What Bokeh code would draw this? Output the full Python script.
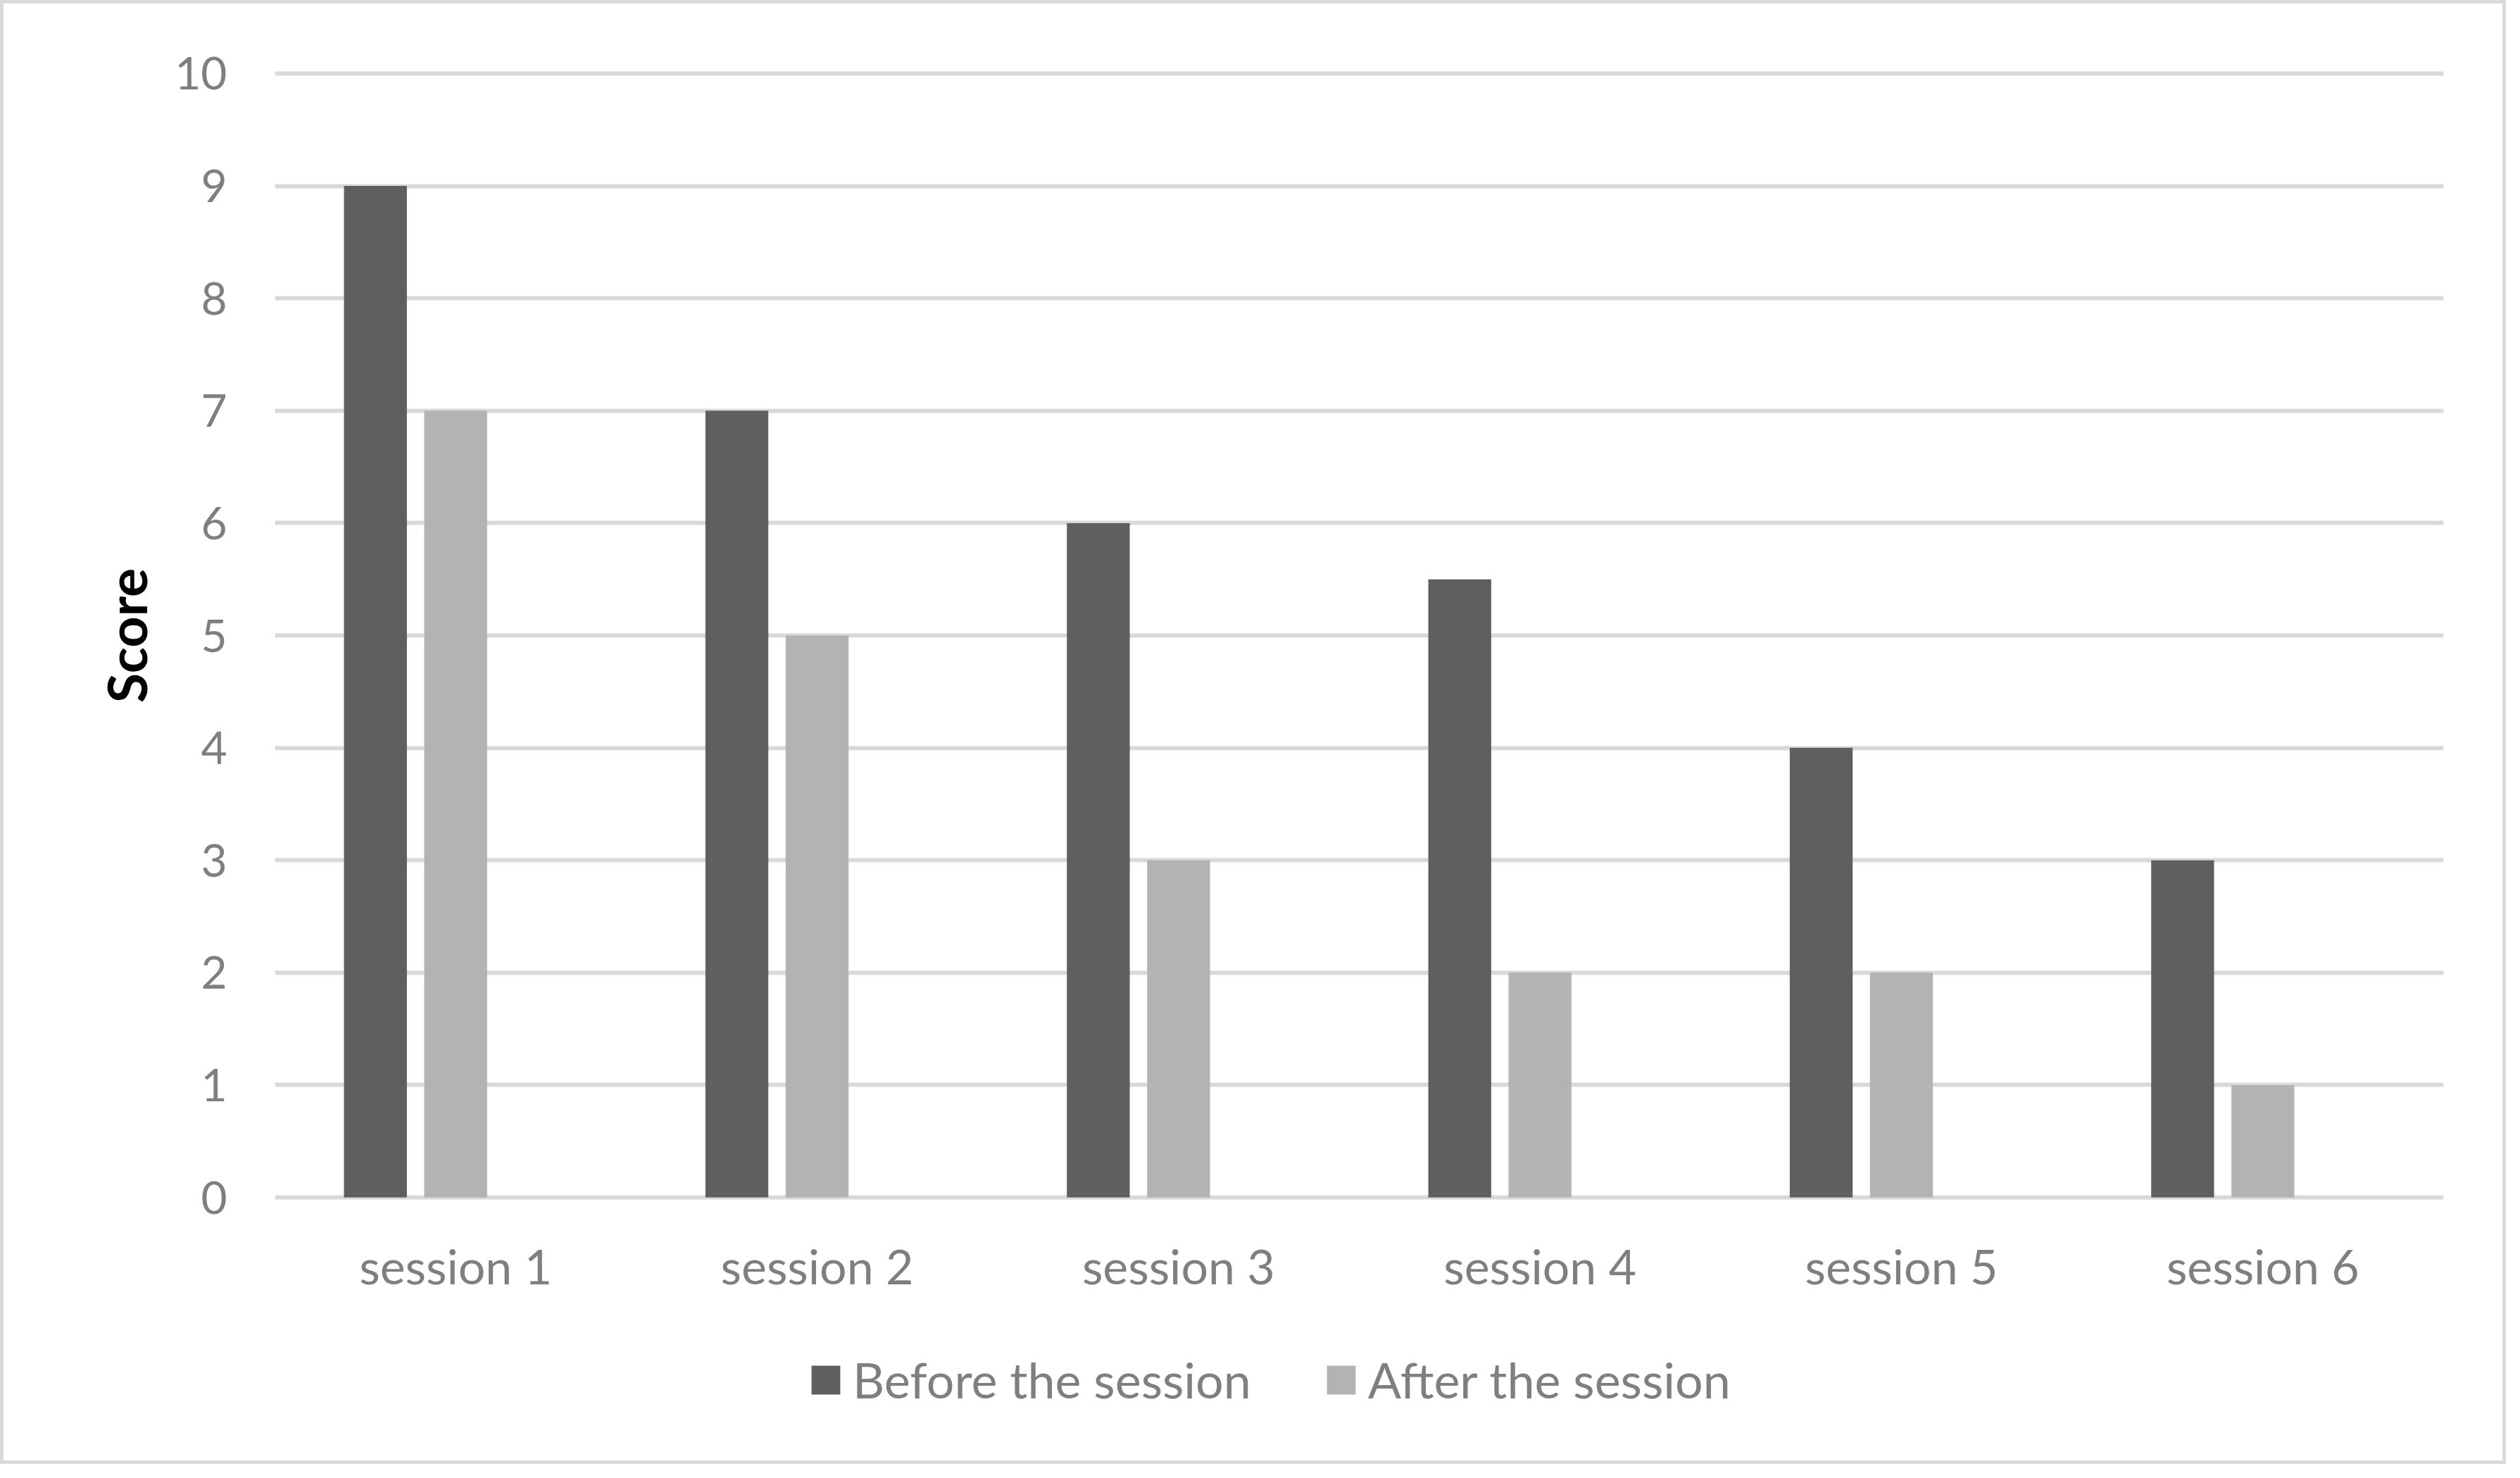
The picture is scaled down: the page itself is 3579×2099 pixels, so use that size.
from bokeh.plotting import figure
from bokeh.layouts import column
from bokeh.models import ColumnDataSource, FactorRange, Range1d, FixedTicker, Legend, LegendItem
from bokeh.transform import dodge
from bokeh.embed import file_html
from bokeh.resources import INLINE

sessions = ["session 1", "session 2", "session 3", "session 4", "session 5", "session 6"]
before = [9, 7, 6, 5.5, 4, 3]
after = [7, 5, 3, 2, 2, 1]
y_ticks = list(range(0, 11))
series_names = ["Before the session", "After the session"]
colors = ["#5f5f5f", "#b3b3b3"]

FONT = "Lato"
TXT = "#7f7f7f"
BORDER = "5px solid #d9d9d9"
W = 3559

src = ColumnDataSource(dict(x=sessions, before=before, after=after))

# ---- main chart ----
p1 = figure(
    x_range=FactorRange(*sessions, range_padding=0),
    y_range=Range1d(-0.025, 10.025),
    width=W, height=1847,
    output_backend="svg", toolbar_location=None,
    min_border_left=385, min_border_right=94, min_border_top=95, min_border_bottom=148,
)
p1.styles = {"border-top": BORDER, "border-left": BORDER, "border-right": BORDER}
p1.background_fill_color = "white"
p1.border_fill_color = "white"
p1.outline_line_color = None

p1.vbar(x=dodge("x", -0.222, range=p1.x_range), top="before", width=0.174,
        source=src, fill_color=colors[0], line_color=None)
p1.vbar(x=dodge("x", 0.0, range=p1.x_range), top="after", width=0.174,
        source=src, fill_color=colors[1], line_color=None)

p1.xgrid.grid_line_color = None
p1.ygrid.ticker = FixedTicker(ticks=y_ticks)
p1.ygrid.grid_line_color = "#d9d9d9"
p1.ygrid.grid_line_width = 6
p1.yaxis.ticker = FixedTicker(ticks=y_ticks)

for ax in (p1.xaxis[0], p1.yaxis[0]):
    ax.axis_line_color = None
    ax.major_tick_line_color = None
    ax.minor_tick_line_color = None
    ax.major_label_text_font = FONT
    ax.major_label_text_color = TXT

p1.yaxis.major_label_text_font_size = "64px"
p1.xaxis.major_label_text_font_size = "68px"
p1.yaxis.major_label_standoff = 62
p1.xaxis.major_label_standoff = 46
p1.yaxis.axis_label = "Score"
p1.yaxis.axis_label_text_font = FONT
p1.yaxis.axis_label_text_font_size = "77px"
p1.yaxis.axis_label_text_font_style = "bold"
p1.yaxis.axis_label_text_color = "black"
p1.yaxis.axis_label_standoff = 20

# ---- legend strip (frame aligned with the chart's frame by the column) ----
p2 = figure(
    x_range=FactorRange(*sessions, range_padding=0), y_range=Range1d(0, 10),
    width=W, height=232,
    output_backend="svg", toolbar_location=None,
    x_axis_location=None, y_axis_location=None, min_border=0,
)
p2.styles = {"border-bottom": BORDER, "border-left": BORDER, "border-right": BORDER}
p2.background_fill_color = "white"
p2.border_fill_color = "white"
p2.outline_line_color = None
for g in p2.grid:
    g.visible = False

# legend proxies: same series, not drawn in the strip itself
lr1 = p2.vbar(x="x", top="before", source=src, width=0.174,
              fill_color=colors[0], line_color=None, visible=False)
lr2 = p2.vbar(x="x", top="after", source=src, width=0.174,
              fill_color=colors[1], line_color=None, visible=False)

legend = Legend(
    items=[LegendItem(label=series_names[0], renderers=[lr1]),
           LegendItem(label=series_names[1], renderers=[lr2])],
    orientation="horizontal",
    location=(757, 78),
    label_text_font=FONT, label_text_font_size="70px", label_text_color=TXT,
    glyph_width=51, glyph_height=51, label_standoff=13, spacing=102,
    padding=0, margin=0,
    border_line_color=None, background_fill_alpha=0,
    inactive_fill_alpha=0, click_policy="none",
)
p2.add_layout(legend, "center")

layout = column(p1, p2, spacing=0)
open("out.html", "w").write(file_html(layout, INLINE))
